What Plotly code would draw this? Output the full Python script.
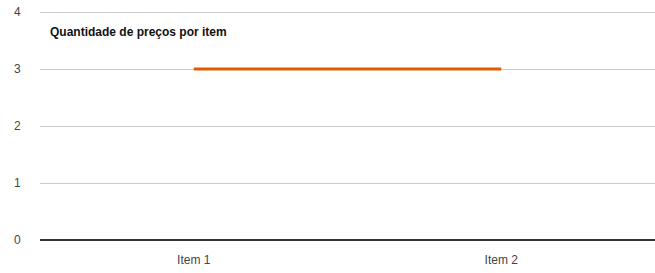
import plotly.graph_objects as go

categories = ["Item 1", "Item 2"]
values = [3, 3]
y_ticks = [0, 1, 2, 3, 4]
title_text = "Quantidade de preços por item"

fig = go.Figure()
fig.add_trace(go.Scatter(
    x=categories, y=values, mode="lines",
    line=dict(color="#E05C00", width=3),
    hoverinfo="skip", showlegend=False,
))

fig.update_layout(
    width=655, height=273,
    margin=dict(l=40, r=0, t=11, b=33, autoexpand=False),
    paper_bgcolor="white", plot_bgcolor="white",
    font=dict(family="Liberation Sans, Arial, sans-serif", size=12, color="#444"),
    title=dict(
        text="<b>" + title_text + "</b>",
        x=50 / 655, xanchor="left", xref="container",
        y=1 - 32 / 273, yanchor="middle", yref="container",
        font=dict(size=12, color="#111"),
    ),
    xaxis=dict(
        type="category", range=[-0.5, 1.5],
        showgrid=False, showline=False, zeroline=False,
        ticks="outside", ticklen=9, tickcolor="rgba(0,0,0,0)",
        tickfont=dict(size=12, color="#444"),
    ),
    yaxis=dict(
        range=[0, 4.02], tickvals=y_ticks,
        showgrid=True, gridcolor="#CCCCCC", gridwidth=1,
        zeroline=True, zerolinecolor="#333333", zerolinewidth=2,
        showline=False,
        ticks="outside", ticklen=16, tickcolor="rgba(0,0,0,0)",
        tickfont=dict(size=12, color="#444"),
    ),
)

fig.write_html("out.html", config={"displayModeBar": False},
               post_script="document.body.style.margin='0';")
